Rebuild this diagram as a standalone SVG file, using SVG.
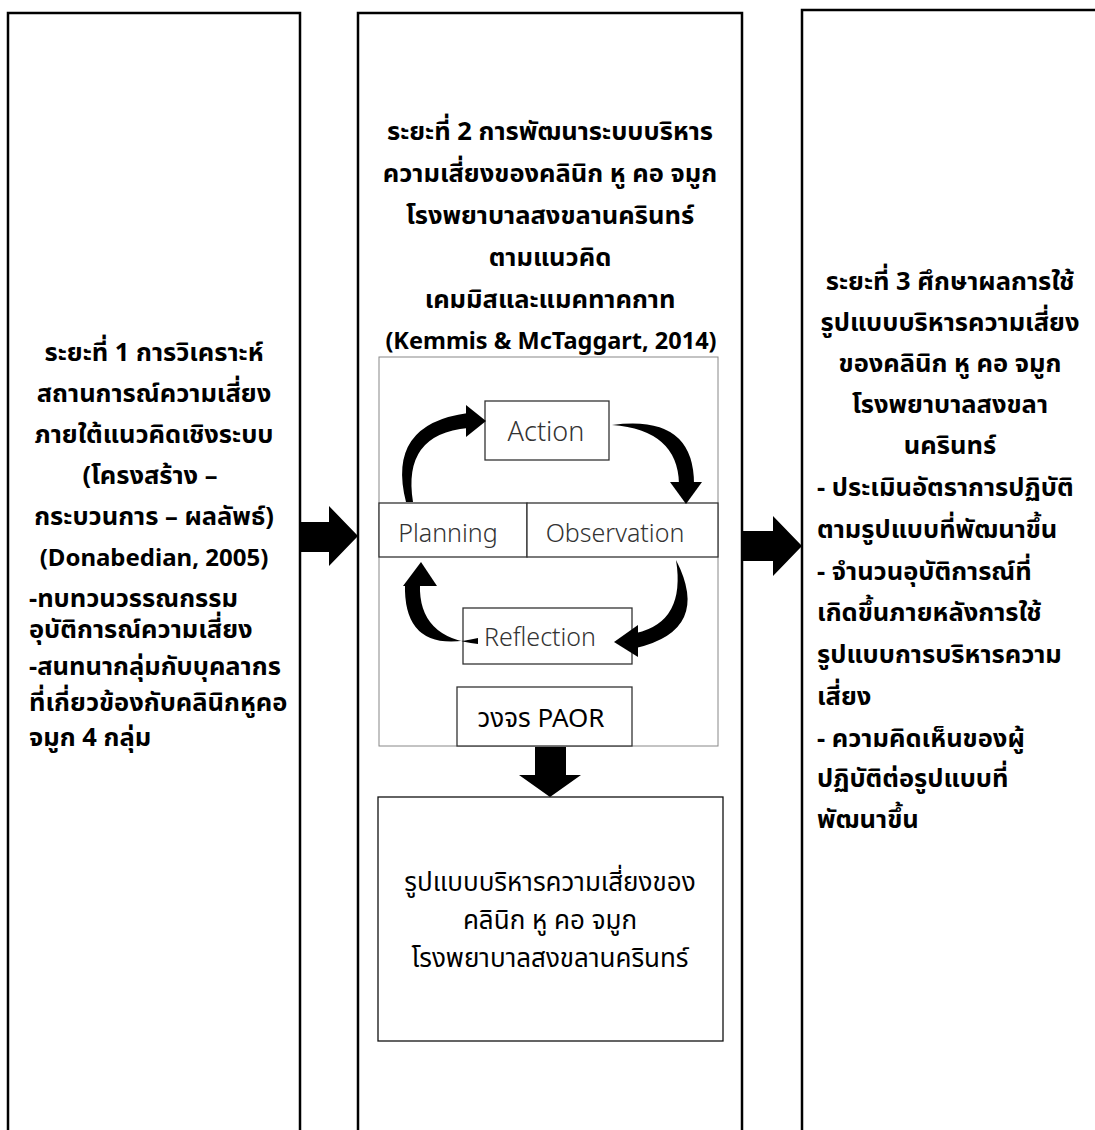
<svg xmlns="http://www.w3.org/2000/svg" width="1095" height="1130" viewBox="0 0 1095 1130">
<style>
.box{fill:#fff;stroke:#000;stroke-width:2.5}
.thin{fill:#fff;stroke:#333;stroke-width:1.3}
.t{font-family:"Noto Sans","Noto Sans Thai","Leelawadee UI",Tahoma,sans-serif;font-size:25.5px;font-weight:bold;fill:#000}
.c{text-anchor:middle}
.en{font-size:24px}
.r{font-family:"Noto Sans","Noto Sans Thai","Leelawadee UI",Tahoma,sans-serif;font-size:26px;fill:#000;text-anchor:middle}
.l{font-family:"Noto Sans","Noto Sans Thai",Tahoma,sans-serif;font-size:25px;font-weight:300;fill:#333;text-anchor:middle}
</style>
<rect width="1095" height="1130" fill="#fff"/>
<g id="phase1">
<rect class="box" x="8" y="13" width="292" height="1140"/>
<text class="t c" x="154" y="361">ระยะที่ 1 การวิเคราะห์</text>
<text class="t c" x="154" y="402">สถานการณ์ความเสี่ยง</text>
<text class="t c" x="154" y="443">ภายใต้แนวคิดเชิงระบบ</text>
<text class="t c" x="150" y="484">(โครงสร้าง –</text>
<text class="t c" x="154" y="525">กระบวนการ – ผลลัพธ์)</text>
<text class="t c en" x="154" y="566">(Donabedian, 2005)</text>
<text class="t" x="29" y="607">-ทบทวนวรรณกรรม</text>
<text class="t" x="29" y="638">อุบัติการณ์ความเสี่ยง</text>
<text class="t" x="29" y="675">-สนทนากลุ่มกับบุคลากร</text>
<text class="t" x="29" y="711">ที่เกี่ยวข้องกับคลินิกหูคอ</text>
<text class="t" x="29" y="746">จมูก 4 กลุ่ม</text>
</g>
<g id="phase2">
<rect class="box" x="358" y="13" width="384" height="1140"/>
<text class="t c" x="550" y="140">ระยะที่ 2 การพัฒนาระบบบริหาร</text>
<text class="t c" x="550" y="182">ความเสี่ยงของคลินิก หู คอ จมูก</text>
<text class="t c" x="550" y="224">โรงพยาบาลสงขลานครินทร์</text>
<text class="t c" x="550" y="266">ตามแนวคิด</text>
<text class="t c" x="550" y="308">เคมมิสและแมคทาคกาท</text>
<text class="t c" x="551" y="349" style="font-size:23.5px">(Kemmis &amp; McTaggart, 2014)</text>
</g>
<g id="paor">
<rect x="379" y="357" width="339" height="389" fill="#fff" stroke="#888" stroke-width="1"/>
<g id="action"><rect class="thin" x="485" y="401" width="124" height="59"/><text class="l" x="546" y="441" style="font-size:27px">Action</text></g>
<g id="planning"><rect class="thin" x="379" y="503" width="148" height="54"/><text class="l" x="448" y="542">Planning</text></g>
<g id="observation"><rect class="thin" x="527" y="503" width="191" height="54"/><text class="l" x="615" y="542">Observation</text></g>
<g id="reflection"><rect class="thin" x="463" y="608" width="169" height="56"/><text class="l" x="540" y="646">Reflection</text></g>
<g id="paor-label"><rect class="thin" x="457" y="687" width="175" height="59"/><text class="r" x="541" y="727">วงจร PAOR</text></g>
</g>
<g id="model">
<rect x="378" y="797" width="345" height="244" fill="#fff" stroke="#111" stroke-width="1.3"/>
<text class="r" x="550" y="891">รูปแบบบริหารความเสี่ยงของ</text>
<text class="r" x="550" y="929">คลินิก หู คอ จมูก</text>
<text class="r" x="550" y="967">โรงพยาบาลสงขลานครินทร์</text>
</g>
<g id="phase3">
<rect class="box" x="802" y="10" width="310" height="1140"/>
<text class="t c" x="950" y="290">ระยะที่ 3 ศึกษาผลการใช้</text>
<text class="t c" x="950" y="331">รูปแบบบริหารความเสี่ยง</text>
<text class="t c" x="950" y="372">ของคลินิก หู คอ จมูก</text>
<text class="t c" x="950" y="413">โรงพยาบาลสงขลา</text>
<text class="t c" x="950" y="454">นครินทร์</text>
<text class="t" x="817" y="496">- ประเมินอัตราการปฏิบัติ</text>
<text class="t" x="817" y="538">ตามรูปแบบที่พัฒนาขึ้น</text>
<text class="t" x="817" y="580">- จำนวนอุบัติการณ์ที่</text>
<text class="t" x="817" y="621">เกิดขึ้นภายหลังการใช้</text>
<text class="t" x="817" y="663">รูปแบบการบริหารความ</text>
<text class="t" x="817" y="705">เสี่ยง</text>
<text class="t" x="817" y="747">- ความคิดเห็นของผู้</text>
<text class="t" x="817" y="787">ปฏิบัติต่อรูปแบบที่</text>
<text class="t" x="817" y="828">พัฒนาขึ้น</text>
</g>
<g id="connectors" fill="#000">
<path d="M300,522 L329,522 L329,506 L358,536 L329,566 L329,552 L300,552 Z"/>
<path d="M742,531 L773,531 L773,516 L802,546 L773,576 L773,561 L742,561 Z"/>
<path d="M535,747 L566,747 L566,775 L581,775 L550,797 L519,775 L535,775 Z"/>
<path d="M406,502 Q386,424 468,413 L468,428 Q402,434 413,502 Z"/>
<path d="M466,405 L486,421 L466,437 Z"/>
<path d="M612,425 Q694,414 694,484 L679,484 Q678,430 612,425 Z"/>
<path d="M670,482 L702,482 L686,504 Z"/>
<path d="M676,560 Q712,630 636,648 L636,633 Q686,622 676,560 Z"/>
<path d="M638,625 L614,642 L638,657 Z"/>
<path d="M478,638 Q403,656 405,584 L420,584 Q418,638 478,644 Z"/>
<path d="M403,586 L421,562 L437,586 Z"/>
</g>
</svg>
